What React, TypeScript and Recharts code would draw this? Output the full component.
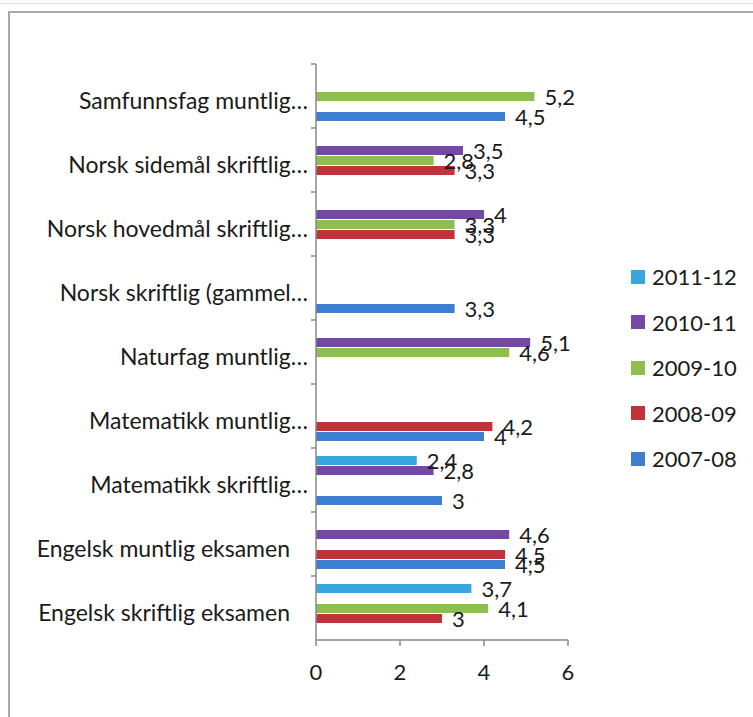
import React from "react";
import { BarChart, Bar, XAxis, YAxis, Legend, LabelList } from "recharts";

// Categories listed top to bottom as they appear in the chart
const categories = [
  "Samfunnsfag muntlig…",
  "Norsk sidemål skriftlig…",
  "Norsk hovedmål skriftlig…",
  "Norsk skriftlig (gammel…",
  "Naturfag muntlig…",
  "Matematikk muntlig…",
  "Matematikk skriftlig…",
  "Engelsk muntlig eksamen",
  "Engelsk skriftlig eksamen",
];

const s2007_08 = [4.5, null, null, 3.3, null, 4, 3, 4.5, null];
const s2008_09 = [null, 3.3, 3.3, null, null, 4.2, null, 4.5, 3];
const s2009_10 = [5.2, 2.8, 3.3, null, 4.6, null, null, null, 4.1];
const s2010_11 = [null, 3.5, 4, null, 5.1, null, 2.8, 4.6, null];
const s2011_12 = [null, null, null, null, null, null, 2.4, null, 3.7];

const xTicks = [0, 2, 4, 6];

const seriesDefs = [
  { key: "2011-12", values: s2011_12, color: "#3AA6E0" },
  { key: "2010-11", values: s2010_11, color: "#7448A6" },
  { key: "2009-10", values: s2009_10, color: "#8CBF4E" },
  { key: "2008-09", values: s2008_09, color: "#C1323A" },
  { key: "2007-08", values: s2007_08, color: "#3E7ECF" },
];
const seriesOrder = seriesDefs.map((s) => s.key);

const data = categories.map((c, i) => {
  const row: any = { name: c };
  seriesDefs.forEach((s) => {
    row[s.key] = s.values[i];
  });
  return row;
});

const FONT = "Lato, 'Open Sans', sans-serif";

const CategoryTick = (props: any) => {
  const { y, payload } = props;
  const label: string = payload.value;
  const truncated = label.endsWith("…");
  const half = 32;
  return (
    <g>
      <line x1={311} x2={316} y1={y - half} y2={y - half} stroke="#888" strokeWidth={1.5} />
      <text
        x={truncated ? 308 : 290}
        y={y}
        dy={13}
        textAnchor="end"
        fontSize={23}
        fontFamily={FONT}
        fill="#1a1a1a"
      >
        {label}
      </text>
    </g>
  );
};

const ValueLabel = (props: any) => {
  const { x, y, width, height, value } = props;
  if (value === null || value === undefined) return null;
  return (
    <text
      x={x + width + 10}
      y={y + height / 2}
      dy={8}
      fontSize={22}
      fontFamily={FONT}
      fill="#1a1a1a"
      textAnchor="start"
    >
      {String(value).replace(".", ",")}
    </text>
  );
};

const renderLegend = (props: any) => {
  const payload = [...(props.payload || [])].sort(
    (a: any, b: any) => seriesOrder.indexOf(a.value) - seriesOrder.indexOf(b.value)
  );
  return (
    <div style={{ fontFamily: FONT }}>
      {payload.map((p: any) => (
        <div key={p.value} style={{ display: "flex", alignItems: "center", height: 45.5 }}>
          <div style={{ width: 14, height: 14, background: p.color, marginRight: 7 }} />
          <span style={{ fontSize: 22, color: "#1a1a1a" }}>{p.value}</span>
        </div>
      ))}
    </div>
  );
};

export default function App() {
  return (
    <div style={{ position: "absolute", left: 0, top: 0, width: 753, height: 717, background: "#fff" }}>
      <div style={{ position: "absolute", left: 0, top: 3, width: 753, height: 1, background: "#e2e2e2" }} />
      <div
        style={{
          position: "absolute",
          left: 8,
          top: 11,
          width: 745,
          height: 706,
          borderLeft: "2px solid #a8a8a8",
          borderTop: "2px solid #a8a8a8",
          boxSizing: "border-box",
        }}
      />
      <div style={{ position: "absolute", left: 0, top: 0 }}>
        <BarChart
          width={753}
          height={717}
          data={data}
          layout="vertical"
          margin={{ top: 64, right: 185, bottom: 37, left: 0 }}
          barSize={9}
          barGap={1}
        >
          <XAxis
            type="number"
            domain={[0, 6]}
            ticks={xTicks}
            height={40}
            axisLine={{ stroke: "#888", strokeWidth: 1.5 }}
            tickLine={{ stroke: "#888", strokeWidth: 1.5 }}
            tickSize={6}
            tickMargin={18}
            tick={{ fontSize: 22, fontFamily: FONT, fill: "#1a1a1a" }}
          />
          <YAxis
            type="category"
            dataKey="name"
            width={316}
            axisLine={{ stroke: "#888", strokeWidth: 1.5 }}
            tickLine={false}
            tick={<CategoryTick />}
            interval={0}
          />
          <Legend
            layout="vertical"
            align="center"
            verticalAlign="middle"
            content={renderLegend}
            wrapperStyle={{ position: "absolute", left: 631, top: 254, width: 120 }}
          />
          {seriesDefs.map((s) => (
            <Bar key={s.key} dataKey={s.key} fill={s.color} isAnimationActive={false}>
              <LabelList dataKey={s.key} content={<ValueLabel />} />
            </Bar>
          ))}
        </BarChart>
      </div>
    </div>
  );
}
